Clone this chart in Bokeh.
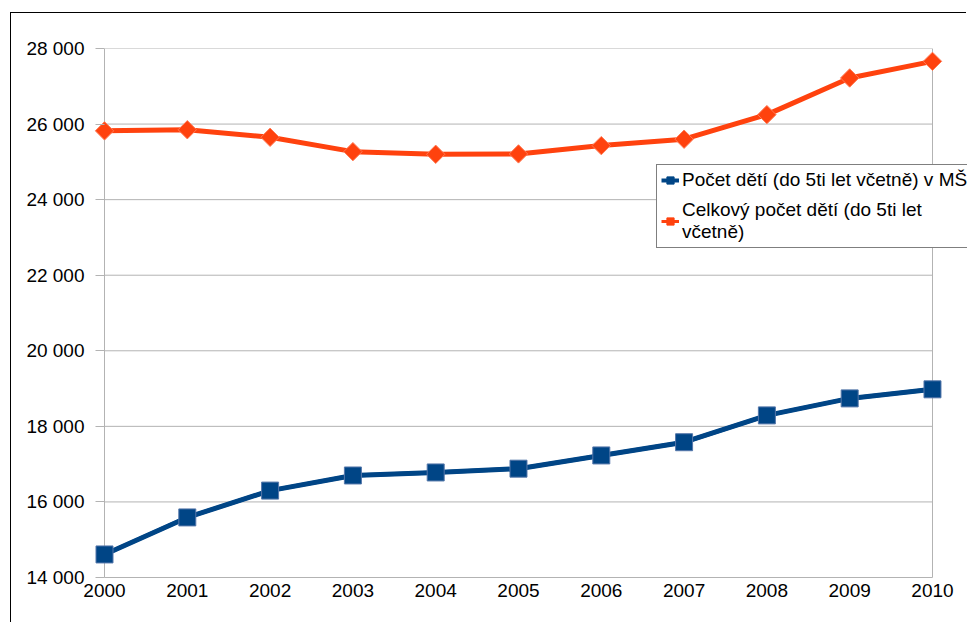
import math
from bokeh.plotting import figure
from bokeh.models import FixedTicker, Legend, LegendItem
from bokeh.embed import file_html
from bokeh.resources import INLINE

years = [2000, 2001, 2002, 2003, 2004, 2005, 2006, 2007, 2008, 2009, 2010]
ms_children = [14610, 15590, 16300, 16700, 16780, 16880, 17230, 17580, 18290, 18740, 18980]
all_children = [25820, 25850, 25650, 25270, 25200, 25210, 25430, 25600, 26250, 27220, 27660]
series_names = ["Počet dětí (do 5ti let včetně) v MŠ", "Celkový počet dětí (do 5ti let\nvčetně)"]
y_ticks = [14000, 16000, 18000, 20000, 22000, 24000, 26000, 28000]
y_tick_labels = ["14 000", "16 000", "18 000", "20 000", "22 000", "24 000", "26 000", "28 000"]

BLUE = "#004586"
ORANGE = "#ff420e"
GRID = "#b3b3b3"
FONT = "Liberation Sans"

p = figure(width=956, height=610, output_backend="svg", toolbar_location=None,
           x_range=(1999.855, 2010.423), y_range=(14000, 28000),
           min_border_left=81, min_border_right=0, min_border_top=35, min_border_bottom=46)
p.styles = {"border-left": "1px solid #000", "border-top": "1px solid #000",
            "margin-left": "10px", "margin-top": "12px"}
p.outline_line_color = None
p.background_fill_color = "white"
p.border_fill_color = "white"

p.xaxis.ticker = FixedTicker(ticks=years)
p.xaxis.bounds = (years[0], years[-1])
p.yaxis.ticker = FixedTicker(ticks=y_ticks)
p.yaxis.major_label_overrides = {t: l for t, l in zip(y_ticks, y_tick_labels)}
for ax in (p.xaxis, p.yaxis):
    ax.axis_line_color = GRID
    ax.major_tick_line_color = GRID
    ax.minor_tick_line_color = None
    ax.major_label_text_font = FONT
    ax.major_label_text_font_size = "19px"
    ax.major_label_text_color = "#000"
p.xaxis.major_tick_out = 0
p.xaxis.major_tick_in = 0
p.xaxis.major_label_standoff = 6
p.yaxis.axis_line_color = None
p.yaxis.major_tick_out = -3
p.yaxis.major_tick_in = 12
p.yaxis.major_label_standoff = 8

p.xgrid.ticker = FixedTicker(ticks=[years[0], years[-1]])
p.xgrid.grid_line_color = GRID
p.ygrid.grid_line_color = None
p.segment(x0=[years[0]] * len(y_ticks), x1=[years[-1]] * len(y_ticks),
          y0=y_ticks, y1=y_ticks, line_color=GRID, line_width=1)

# thinner lines / small markers hidden under the main ones, used for the legend glyphs
ll1 = p.line(years, ms_children, line_color=BLUE, line_width=4)
lg1 = p.scatter(years, ms_children, marker="square", size=8, fill_color=BLUE, line_color=BLUE)
ll2 = p.line(years, all_children, line_color=ORANGE, line_width=3)
lg2 = p.scatter(years, all_children, marker="square", angle=math.pi / 4, size=6,
                fill_color=ORANGE, line_color=ORANGE)

p.line(years, ms_children, line_color=BLUE, line_width=5)
p.scatter(years, ms_children, marker="square", size=17, fill_color=BLUE,
          line_color="#5577aa", line_width=1)
p.line(years, all_children, line_color=ORANGE, line_width=5)
p.scatter(years, all_children, marker="square", angle=math.pi / 4, size=13,
          fill_color=ORANGE, line_color="#ff7a55", line_width=1)

legend = Legend(items=[LegendItem(label=series_names[0], renderers=[ll1, lg1]),
                       LegendItem(label=series_names[1], renderers=[ll2, lg2])],
                location=(564, 329))
legend.label_text_font = FONT
legend.label_text_font_size = "19px"
legend.label_text_color = "#000"
legend.label_standoff = 3
legend.glyph_width = 18
legend.glyph_height = 18
legend.padding = 4
legend.spacing = 8
legend.margin = 0
legend.border_line_color = "#000"
legend.border_line_width = 1
legend.background_fill_alpha = 1
p.add_layout(legend, "center")

open("out.html", "w").write(file_html(p, INLINE))
